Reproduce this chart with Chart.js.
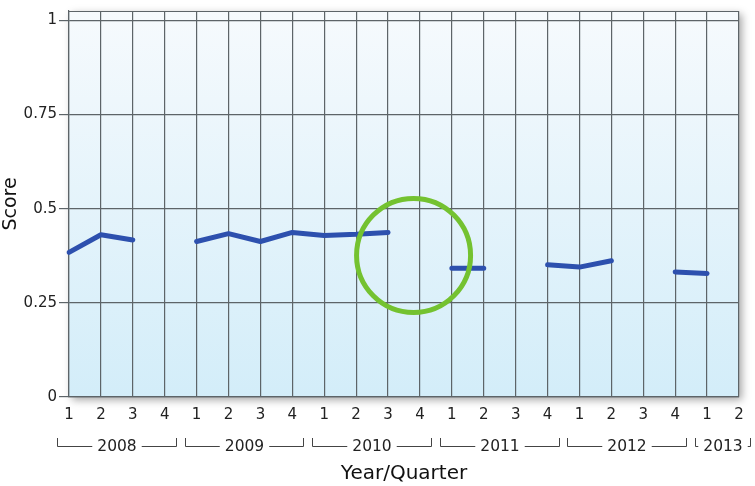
<!DOCTYPE html>
<html>
<head>
<meta charset="utf-8">
<script src="https://cdn.jsdelivr.net/npm/chart.js@4"></script>
<style>
  html, body { margin: 0; padding: 0; background: #fff; }
  #wrap { width: 755px; height: 486px; position: relative; }
</style>
</head>
<body>
<div id="wrap"><canvas id="scoreChart"></canvas></div>
<script>
const years = ['2008', '2009', '2010', '2011', '2012', '2013'];
const quartersPerYear = [4, 4, 4, 4, 4, 2];
const scores = [
    0.384, 0.431, 0.417, null,
    0.413, 0.434, 0.413, 0.437,
    0.429, 0.432, 0.437, null,
    0.342, 0.342, null, 0.351,
    0.345, 0.362, null, 0.332,
    0.328, null
];
const yTicks = [0, 0.25, 0.5, 0.75, 1];
// highlight ring: category position (fractional index) and score
const ringX = 10.8;
const ringY = 0.376;

const categories = [];
const quarterLabels = [];
years.forEach(function (y, i) {
    for (let q = 1; q <= quartersPerYear[i]; q++) {
        categories.push(y + ' Q' + q);
        quarterLabels.push(String(q));
    }
});

const FONT = "'DejaVu Sans', sans-serif";

const plotDecor = {
    id: 'plotDecor',
    beforeDraw: function (chart) {
        const a = chart.chartArea;
        const ctx = chart.ctx;
        ctx.save();
        ctx.shadowColor = 'rgba(0,0,0,0.35)';
        ctx.shadowBlur = 8;
        ctx.shadowOffsetX = 3;
        ctx.shadowOffsetY = 3;
        ctx.fillStyle = '#e6f4fb';
        ctx.fillRect(a.left, a.top, a.right - a.left, a.bottom - a.top);
        ctx.restore();
        const g = ctx.createLinearGradient(0, a.top, 0, a.bottom);
        g.addColorStop(0, '#f6fafd');
        g.addColorStop(1, '#d3edf9');
        ctx.fillStyle = g;
        ctx.fillRect(a.left, a.top, a.right - a.left, a.bottom - a.top);
    },
    afterDraw: function (chart) {
        const a = chart.chartArea;
        const ctx = chart.ctx;
        const xs = chart.scales.x;
        const ys = chart.scales.y;
        ctx.save();
        // top border of the plot box
        ctx.strokeStyle = '#5d6468';
        ctx.lineWidth = 1.2;
        ctx.beginPath();
        ctx.moveTo(a.left, a.top + 0.5);
        ctx.lineTo(a.right, a.top + 0.5);
        ctx.stroke();

        // green ring
        ctx.strokeStyle = '#74c230';
        ctx.lineWidth = 5;
        ctx.beginPath();
        ctx.arc(xs.getPixelForValue(ringX), ys.getPixelForValue(ringY), 57, 0, Math.PI * 2);
        ctx.stroke();

        // year brackets
        ctx.font = '15.5px ' + FONT;
        ctx.fillStyle = '#222';
        ctx.strokeStyle = '#444';
        ctx.lineWidth = 1;
        ctx.textAlign = 'center';
        ctx.textBaseline = 'middle';
        const top = 438, base = 446.5;
        let idx = 0;
        years.forEach(function (y, i) {
            const x0 = Math.round(xs.getPixelForValue(idx)) - 11.5;
            const x1 = Math.round(xs.getPixelForValue(idx + quartersPerYear[i] - 1)) + 11.5;
            idx += quartersPerYear[i];
            const cx = (x0 + x1) / 2;
            const w = ctx.measureText(y).width;
            ctx.beginPath();
            ctx.moveTo(x0, top);
            ctx.lineTo(x0, base);
            ctx.lineTo(Math.max(x0, cx - w / 2 - 5), base);
            ctx.moveTo(Math.min(x1, cx + w / 2 + 5), base);
            ctx.lineTo(x1, base);
            ctx.lineTo(x1, top);
            ctx.stroke();
            ctx.fillText(y, cx, base);
        });
        ctx.restore();
    }
};

const ctx = document.getElementById('scoreChart').getContext('2d');
const scoreChart = new Chart(ctx, {
    type: 'line',
    data: {
        labels: categories,
        datasets: [{
            label: 'Score',
            data: scores,
            borderColor: '#2d50ae',
            borderWidth: 5,
            borderCapStyle: 'round',
            borderJoinStyle: 'round',
            pointRadius: 0,
            spanGaps: false,
            tension: 0
        }]
    },
    options: {
        responsive: true,
        maintainAspectRatio: false,
        animation: false,
        layout: { padding: { top: 8, right: 16, left: 0, bottom: 0 } },
        plugins: {
            legend: { display: false },
            tooltip: { enabled: false }
        },
        scales: {
            x: {
                offset: false,
                grid: { color: '#5d6468', lineWidth: 1.2, drawTicks: false },
                border: { color: '#5d6468', width: 1.2 },
                ticks: {
                    autoSkip: false,
                    maxRotation: 0,
                    padding: 9,
                    color: '#222',
                    font: { family: FONT, size: 15 },
                    callback: function (v, i) { return quarterLabels[i]; }
                },
                title: {
                    display: true,
                    text: 'Year/Quarter',
                    color: '#111',
                    font: { family: FONT, size: 20 },
                    padding: 0
                },
                afterFit: function (s) { s.height = 89; }
            },
            y: {
                min: 0,
                max: 1.025,
                afterBuildTicks: function (s) {
                    s.ticks = yTicks.map(function (v) { return { value: v }; });
                },
                grid: { color: '#5d6468', lineWidth: 1.2, tickLength: 10 },
                border: { color: '#5d6468', width: 1.2 },
                ticks: {
                    padding: 2,
                    color: '#222',
                    font: { family: FONT, size: 15 },
                    callback: function (v) { return String(v); }
                },
                title: {
                    display: true,
                    text: 'Score',
                    color: '#111',
                    font: { family: FONT, size: 19 },
                    padding: 0
                },
                afterFit: function (s) { s.width = 69; }
            }
        }
    },
    plugins: [plotDecor]
});
</script>
</body>
</html>
